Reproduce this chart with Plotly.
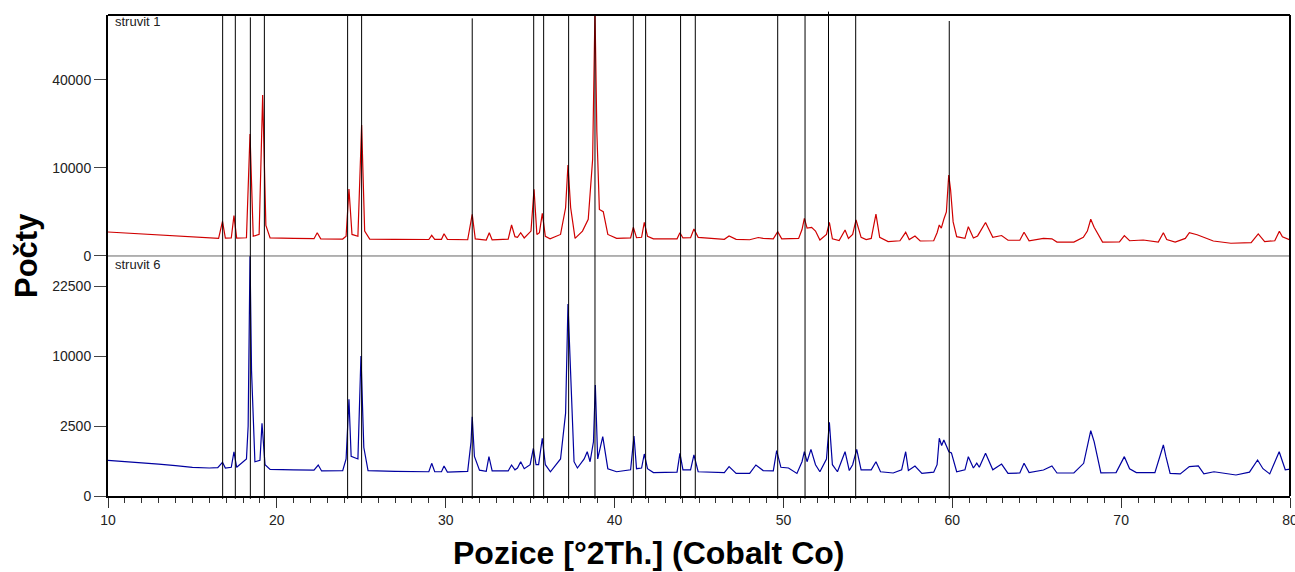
import numpy as np
import plotly.graph_objects as go

# ---------------- data (counts) ----------------
two_theta_s1 = [10.0, 12.0, 14.0, 16.0, 16.55, 16.78, 16.95, 17.3, 17.46, 17.62, 18.2, 18.41, 18.6, 18.95,
                19.16, 19.35, 19.6, 21.0, 22.2, 22.39, 22.6, 23.9, 24.1, 24.27, 24.45, 24.8, 25.02, 25.2,
                25.5, 27.0, 29.0, 29.17, 29.35, 29.75, 29.9, 30.1, 31.3, 31.57, 31.75, 32.4, 32.58, 32.75,
                33.7, 33.9, 34.1, 34.25, 34.44, 34.65, 35.05, 35.23, 35.4, 35.55, 35.72, 35.9, 36.18, 36.8,
                37.1, 37.24, 37.4, 37.66, 38.1, 38.44, 38.7, 38.84, 38.95, 39.1, 39.33, 39.6, 40.12, 40.95,
                41.11, 41.3, 41.6, 41.76, 41.95, 42.3, 43.7, 43.87, 44.05, 44.5, 44.7, 44.95, 45.83, 46.5,
                46.78, 47.2, 48.0, 48.51, 48.8, 49.4, 49.66, 49.9, 50.9, 51.1, 51.24, 51.4, 51.67, 51.9,
                52.16, 52.55, 52.72, 52.9, 53.3, 53.65, 53.85, 54.1, 54.3, 54.6, 54.9, 55.2, 55.48, 55.7,
                56.2, 56.9, 57.24, 57.45, 57.79, 58.1, 58.9, 59.1, 59.23, 59.35, 59.5, 59.65, 59.79, 59.9,
                60.05, 60.26, 60.75, 60.95, 61.25, 61.5, 61.97, 62.4, 62.92, 63.3, 64.0, 64.25, 64.55, 65.4,
                65.9, 66.2, 67.2, 67.76, 68.0, 68.2, 68.4, 68.9, 69.9, 70.19, 70.5, 71.31, 72.2, 72.5,
                72.7, 73.2, 73.8, 74.04, 74.5, 75.46, 76.5, 77.7, 78.12, 78.5, 79.1, 79.37, 79.55, 79.92, 80.0]
counts_s1 = [744, 625, 517, 418, 400, 1550, 410, 420, 2100, 410, 430, 19220, 500, 600,
             33480, 1200, 420, 400, 385, 700, 380, 370, 500, 5800, 600, 500, 22170, 800,
             370, 360, 350, 553, 355, 360, 642, 360, 340, 2245, 380, 330, 700, 335,
             370, 1240, 480, 450, 700, 420, 800, 5740, 600, 700, 2350, 500, 380, 600,
             3000, 10690, 3000, 400, 800, 1740, 12000, 78000, 20000, 2800, 2540, 600, 400, 420,
             1063, 430, 450, 1466, 500, 380, 380, 700, 420, 430, 940, 450, 400, 360,
             517, 360, 340, 440, 400, 380, 762, 380, 400, 900, 1835, 1000, 1060, 800,
             330, 600, 1450, 380, 310, 873, 400, 600, 1674, 450, 350, 400, 2270, 450,
             270, 300, 725, 350, 517, 290, 300, 700, 1240, 1000, 1740, 2500, 8470, 5625,
             1500, 480, 400, 1110, 420, 520, 1450, 450, 540, 320, 320, 725, 300, 400,
             380, 250, 250, 450, 800, 1740, 1060, 250, 260, 532, 300, 330, 250, 700,
             350, 250, 400, 700, 580, 290, 210, 230, 625, 270, 300, 790, 480, 330, 330]

two_theta_s6 = [10.0, 11.0, 12.0, 13.0, 14.0, 15.0, 16.0, 16.5, 16.78, 16.95, 17.3, 17.46, 17.62, 18.2,
                18.3, 18.41, 18.5, 18.7, 19.0, 19.12, 19.3, 19.6, 21.0, 22.2, 22.45, 22.65, 23.9, 24.1,
                24.27, 24.4, 24.8, 24.98, 25.15, 25.4, 27.0, 29.0, 29.17, 29.35, 29.75, 29.9, 30.1, 31.3,
                31.5, 31.57, 31.7, 32.0, 32.4, 32.56, 32.75, 33.7, 33.9, 34.1, 34.25, 34.44, 34.65, 35.0,
                35.19, 35.35, 35.5, 35.72, 35.9, 36.2, 36.8, 37.1, 37.24, 37.4, 37.6, 37.8, 38.2, 38.38,
                38.55, 38.75, 38.86, 39.0, 39.3, 39.6, 40.12, 40.95, 41.15, 41.3, 41.6, 41.76, 41.95, 42.3,
                43.7, 43.87, 44.05, 44.5, 44.7, 44.95, 45.83, 46.5, 46.78, 47.2, 48.0, 48.37, 48.8, 49.4,
                49.6, 49.85, 50.3, 50.8, 51.1, 51.24, 51.4, 51.63, 51.9, 52.16, 52.55, 52.72, 52.9, 53.2,
                53.65, 53.9, 54.1, 54.34, 54.6, 55.2, 55.48, 55.75, 56.5, 57.0, 57.24, 57.4, 57.79, 58.2,
                58.9, 59.1, 59.23, 59.37, 59.5, 59.65, 59.8, 59.95, 60.26, 60.75, 60.95, 61.25, 61.45, 61.6,
                61.97, 62.4, 62.92, 63.3, 64.0, 64.25, 64.55, 65.4, 65.9, 66.2, 67.2, 67.78, 68.0, 68.2,
                68.4, 68.8, 69.7, 69.95, 70.19, 70.5, 70.9, 72.0, 72.5, 72.65, 72.9, 73.5, 74.04, 74.57,
                74.9, 75.5, 76.8, 77.6, 78.08, 78.4, 78.8, 79.36, 79.52, 79.72, 80.0]
counts_s6 = [650, 610, 580, 520, 470, 420, 400, 410, 580, 400, 420, 1000, 420, 700,
             2500, 29500, 8000, 600, 650, 2700, 500, 360, 350, 340, 490, 320, 330, 700,
             4770, 800, 700, 10000, 1200, 330, 310, 300, 545, 300, 300, 460, 290, 310,
             1500, 3210, 800, 340, 310, 790, 320, 320, 490, 350, 400, 600, 380, 500,
             1160, 500, 500, 1700, 500, 300, 700, 3500, 18800, 8000, 600, 400, 700, 1000,
             600, 1500, 6290, 700, 1795, 380, 300, 350, 1840, 380, 400, 900, 380, 280,
             290, 930, 350, 350, 860, 300, 280, 280, 440, 260, 260, 490, 330, 320,
             1050, 420, 400, 260, 600, 1000, 600, 1110, 500, 300, 700, 2770, 500, 300,
             1000, 330, 500, 1110, 350, 350, 600, 300, 270, 350, 1000, 330, 460, 260,
             290, 500, 1700, 1300, 1600, 1300, 1000, 950, 300, 350, 790, 400, 550, 420,
             930, 350, 520, 260, 270, 545, 280, 345, 460, 270, 270, 545, 1200, 2175,
             1505, 273, 280, 500, 790, 380, 280, 280, 1330, 800, 260, 250, 440, 460,
             250, 300, 225, 290, 661, 380, 250, 1000, 661, 350, 370]

# reference (pattern) stick positions and relative stick heights
ref_pos = [16.79, 17.54, 18.43, 19.26, 24.19, 25.02, 31.57, 35.21, 35.80, 37.28,
           38.84, 41.11, 41.84, 43.91, 44.78, 49.66, 51.28, 52.67, 54.28, 59.82]
ref_rel = [1.0, 1.0, 0.995, 1.0, 1.0, 1.0, 0.993, 1.0, 1.0, 1.0,
           1.0, 1.0, 1.0, 1.0, 1.0, 1.0, 1.0, 1.007, 1.0, 0.9875]

upper_ticks = [0, 10000, 40000]
lower_ticks = [0, 2500, 10000, 22500]
upper_max = 75000
lower_max = 29400

# ---------------- figure ----------------
FONT = "Liberation Sans, Arial, sans-serif"
fig = go.Figure()
fig.add_trace(go.Scatter(x=two_theta_s1, y=np.sqrt(counts_s1), xaxis="x", yaxis="y",
                         mode="lines", line=dict(color="#d00000", width=1.2), name="struvit 1",
                         showlegend=False))
fig.add_trace(go.Scatter(x=two_theta_s6, y=np.sqrt(counts_s6), xaxis="x", yaxis="y2",
                         mode="lines", line=dict(color="#0000a0", width=1.2), name="struvit 6",
                         showlegend=False))

split = 0.499
yax_common = dict(showline=True, linewidth=2, linecolor="black", ticks="outside", ticklen=12,
                  tickwidth=1, tickcolor="#444", showgrid=False, zeroline=False, automargin=False,
                  tickfont=dict(family=FONT, size=14, color="#222"), anchor="x")

fig.update_layout(
    width=1295, height=572,
    margin=dict(l=108, r=5, t=15, b=76, autoexpand=False),
    paper_bgcolor="white", plot_bgcolor="white",
    xaxis=dict(domain=[0, 1], range=[10, 80], anchor="y2", showline=True, linewidth=2,
               linecolor="black", ticks="outside", ticklen=10, tickwidth=1, tickcolor="#333",
               tick0=10, dtick=10, showgrid=False, zeroline=False, ticklabeloverflow="allow",
               automargin=False,
               minor=dict(dtick=1, ticklen=5, ticks="outside", tickcolor="#333", showgrid=False),
               tickfont=dict(family=FONT, size=14, color="#222")),
    yaxis=dict(domain=[split, 1], range=[0, np.sqrt(upper_max)],
               tickvals=list(np.sqrt(upper_ticks)), ticktext=[str(v) for v in upper_ticks],
               **yax_common),
    yaxis2=dict(domain=[0, split], range=[0, np.sqrt(lower_max)],
                tickvals=list(np.sqrt(lower_ticks)), ticktext=[str(v) for v in lower_ticks],
                **yax_common),
)

shapes = [
    dict(type="line", xref="paper", yref="paper", x0=0, x1=1, y0=split, y1=split,
         line=dict(color="#666", width=1)),
    dict(type="line", xref="paper", yref="paper", x0=0, x1=1, y0=1, y1=1,
         line=dict(color="black", width=2)),
    dict(type="line", xref="paper", yref="paper", x0=1, x1=1, y0=0, y1=1,
         line=dict(color="black", width=2)),
]
for p, r in zip(ref_pos, ref_rel):
    shapes.append(dict(type="line", xref="x", yref="paper", x0=p, x1=p, y0=-0.006, y1=r,
                       line=dict(color="black", width=1)))
fig.update_layout(shapes=shapes)

fig.add_annotation(text="struvit 1", xref="paper", yref="paper", x=0.004, y=0.9855,
                   xanchor="left", yanchor="middle", showarrow=False,
                   font=dict(family=FONT, size=13, color="#222"))
fig.add_annotation(text="struvit 6", xref="paper", yref="paper", x=0.004, y=0.482,
                   xanchor="left", yanchor="middle", showarrow=False,
                   font=dict(family=FONT, size=13, color="#222"))
fig.add_annotation(text="<b>Počty</b>", xref="paper", yref="paper", x=-0.0685, y=0.499,
                   xanchor="center", yanchor="middle", textangle=-90, showarrow=False,
                   font=dict(family=FONT, size=31, color="black"))
fig.add_annotation(text="<b>Pozice [°2Th.] (Cobalt Co)</b>", xref="paper", yref="paper",
                   x=0.457, y=-0.1175, xanchor="center", yanchor="middle", showarrow=False,
                   font=dict(family=FONT, size=32, color="black"))

fig.write_html("out.html", config={"displayModeBar": False},
               post_script="document.body.style.margin='0';document.body.style.overflow='hidden';")
